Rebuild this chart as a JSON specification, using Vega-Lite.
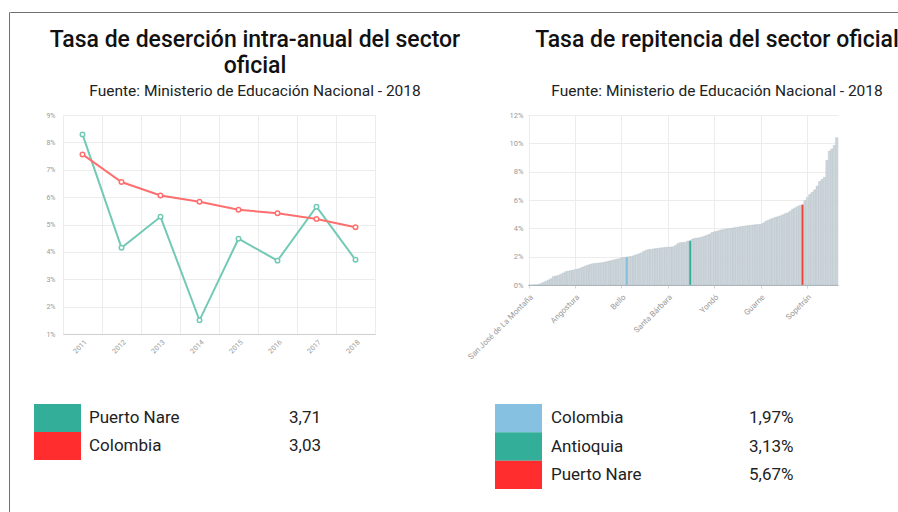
{
  "$schema": "https://vega.github.io/schema/vega-lite/v6.json",
  "background": "white",
  "padding": {"left": 8, "top": 11, "right": 0, "bottom": 0},
  "columns": 6,
  "spacing": 0,
  "bounds": "flush",
  "align": "each",
  "resolve": {"scale": {"x": "independent", "y": "independent", "color": "independent"}},
  "datasets": {
    "rep": [
      {"m": "San José de La Montaña", "v": 0.0, "g": "Municipio"},
      {"m": "Abejorral", "v": 0.0, "g": "Municipio"},
      {"m": "Abriaquí", "v": 0.0001, "g": "Municipio"},
      {"m": "Alejandría", "v": 0.0002, "g": "Municipio"},
      {"m": "Amagá", "v": 0.0004, "g": "Municipio"},
      {"m": "Amalfi", "v": 0.0012, "g": "Municipio"},
      {"m": "Andes", "v": 0.002, "g": "Municipio"},
      {"m": "Angelópolis", "v": 0.0028, "g": "Municipio"},
      {"m": "Anorí", "v": 0.0036, "g": "Municipio"},
      {"m": "Anzá", "v": 0.0045, "g": "Municipio"},
      {"m": "Apartadó", "v": 0.006, "g": "Municipio"},
      {"m": "Arboletes", "v": 0.0064, "g": "Municipio"},
      {"m": "Argelia", "v": 0.0068, "g": "Municipio"},
      {"m": "Armenia", "v": 0.0076, "g": "Municipio"},
      {"m": "Barbosa", "v": 0.0085, "g": "Municipio"},
      {"m": "Belmira", "v": 0.0094, "g": "Municipio"},
      {"m": "Betania", "v": 0.0098, "g": "Municipio"},
      {"m": "Betulia", "v": 0.0102, "g": "Municipio"},
      {"m": "Briceño", "v": 0.0105, "g": "Municipio"},
      {"m": "Angostura", "v": 0.011, "g": "Municipio"},
      {"m": "Buriticá", "v": 0.0113, "g": "Municipio"},
      {"m": "Cáceres", "v": 0.012, "g": "Municipio"},
      {"m": "Caicedo", "v": 0.0127, "g": "Municipio"},
      {"m": "Caldas", "v": 0.0134, "g": "Municipio"},
      {"m": "Campamento", "v": 0.014, "g": "Municipio"},
      {"m": "Cañasgordas", "v": 0.0145, "g": "Municipio"},
      {"m": "Caracolí", "v": 0.015, "g": "Municipio"},
      {"m": "Caramanta", "v": 0.0152, "g": "Municipio"},
      {"m": "Carepa", "v": 0.0154, "g": "Municipio"},
      {"m": "Carolina", "v": 0.0156, "g": "Municipio"},
      {"m": "Caucasia", "v": 0.0158, "g": "Municipio"},
      {"m": "Chigorodó", "v": 0.0162, "g": "Municipio"},
      {"m": "Cisneros", "v": 0.0166, "g": "Municipio"},
      {"m": "Ciudad Bolívar", "v": 0.017, "g": "Municipio"},
      {"m": "Cocorná", "v": 0.0174, "g": "Municipio"},
      {"m": "Concepción", "v": 0.0178, "g": "Municipio"},
      {"m": "Concordia", "v": 0.0182, "g": "Municipio"},
      {"m": "Copacabana", "v": 0.0186, "g": "Municipio"},
      {"m": "Bello", "v": 0.0192, "g": "Municipio"},
      {"m": "Dabeiba", "v": 0.0195, "g": "Municipio"},
      {"m": "Colombia", "v": 0.0197, "g": "Colombia"},
      {"m": "Donmatías", "v": 0.02, "g": "Municipio"},
      {"m": "Ebéjico", "v": 0.0202, "g": "Municipio"},
      {"m": "El Bagre", "v": 0.0208, "g": "Municipio"},
      {"m": "El Carmen de Viboral", "v": 0.0214, "g": "Municipio"},
      {"m": "El Peñol", "v": 0.022, "g": "Municipio"},
      {"m": "El Retiro", "v": 0.0227, "g": "Municipio"},
      {"m": "El Santuario", "v": 0.0238, "g": "Municipio"},
      {"m": "Entrerríos", "v": 0.0246, "g": "Municipio"},
      {"m": "Envigado", "v": 0.025, "g": "Municipio"},
      {"m": "Fredonia", "v": 0.0252, "g": "Municipio"},
      {"m": "Frontino", "v": 0.0255, "g": "Municipio"},
      {"m": "Giraldo", "v": 0.0257, "g": "Municipio"},
      {"m": "Girardota", "v": 0.0259, "g": "Municipio"},
      {"m": "Gómez Plata", "v": 0.0262, "g": "Municipio"},
      {"m": "Granada", "v": 0.0264, "g": "Municipio"},
      {"m": "Guadalupe", "v": 0.0266, "g": "Municipio"},
      {"m": "Santa Bárbara", "v": 0.0267, "g": "Municipio"},
      {"m": "Guatapé", "v": 0.0268, "g": "Municipio"},
      {"m": "Heliconia", "v": 0.027, "g": "Municipio"},
      {"m": "Hispania", "v": 0.028, "g": "Municipio"},
      {"m": "Itagüí", "v": 0.0293, "g": "Municipio"},
      {"m": "Ituango", "v": 0.0299, "g": "Municipio"},
      {"m": "Jardín", "v": 0.03, "g": "Municipio"},
      {"m": "Jericó", "v": 0.0302, "g": "Municipio"},
      {"m": "La Ceja", "v": 0.031, "g": "Municipio"},
      {"m": "Antioquia", "v": 0.0313, "g": "Antioquia"},
      {"m": "La Estrella", "v": 0.0325, "g": "Municipio"},
      {"m": "La Pintada", "v": 0.033, "g": "Municipio"},
      {"m": "La Unión", "v": 0.0332, "g": "Municipio"},
      {"m": "Liborina", "v": 0.0334, "g": "Municipio"},
      {"m": "Maceo", "v": 0.034, "g": "Municipio"},
      {"m": "Marinilla", "v": 0.0346, "g": "Municipio"},
      {"m": "Medellín", "v": 0.0353, "g": "Municipio"},
      {"m": "Montebello", "v": 0.036, "g": "Municipio"},
      {"m": "Murindó", "v": 0.037, "g": "Municipio"},
      {"m": "Yondó", "v": 0.0376, "g": "Municipio"},
      {"m": "Mutatá", "v": 0.038, "g": "Municipio"},
      {"m": "Nariño", "v": 0.0386, "g": "Municipio"},
      {"m": "Nechí", "v": 0.039, "g": "Municipio"},
      {"m": "Necoclí", "v": 0.0393, "g": "Municipio"},
      {"m": "Olaya", "v": 0.0396, "g": "Municipio"},
      {"m": "Peque", "v": 0.0399, "g": "Municipio"},
      {"m": "Pueblorrico", "v": 0.0401, "g": "Municipio"},
      {"m": "Puerto Berrío", "v": 0.0404, "g": "Municipio"},
      {"m": "Puerto Triunfo", "v": 0.0407, "g": "Municipio"},
      {"m": "Remedios", "v": 0.041, "g": "Municipio"},
      {"m": "Rionegro", "v": 0.0413, "g": "Municipio"},
      {"m": "Sabanalarga", "v": 0.0415, "g": "Municipio"},
      {"m": "Sabaneta", "v": 0.0418, "g": "Municipio"},
      {"m": "Salgar", "v": 0.042, "g": "Municipio"},
      {"m": "San Andrés de Cuerquia", "v": 0.0422, "g": "Municipio"},
      {"m": "San Carlos", "v": 0.0424, "g": "Municipio"},
      {"m": "San Francisco", "v": 0.0426, "g": "Municipio"},
      {"m": "San Jerónimo", "v": 0.0427, "g": "Municipio"},
      {"m": "Guarne", "v": 0.0429, "g": "Municipio"},
      {"m": "San Juan de Urabá", "v": 0.0438, "g": "Municipio"},
      {"m": "San Luis", "v": 0.045, "g": "Municipio"},
      {"m": "San Pedro de los Milagros", "v": 0.0458, "g": "Municipio"},
      {"m": "San Pedro de Urabá", "v": 0.0466, "g": "Municipio"},
      {"m": "San Rafael", "v": 0.0472, "g": "Municipio"},
      {"m": "San Roque", "v": 0.0478, "g": "Municipio"},
      {"m": "San Vicente", "v": 0.0483, "g": "Municipio"},
      {"m": "Santa Fe de Antioquia", "v": 0.0488, "g": "Municipio"},
      {"m": "Santa Rosa de Osos", "v": 0.0496, "g": "Municipio"},
      {"m": "Santo Domingo", "v": 0.0504, "g": "Municipio"},
      {"m": "Segovia", "v": 0.051, "g": "Municipio"},
      {"m": "Sonsón", "v": 0.0522, "g": "Municipio"},
      {"m": "Támesis", "v": 0.0536, "g": "Municipio"},
      {"m": "Tarazá", "v": 0.0545, "g": "Municipio"},
      {"m": "Tarso", "v": 0.0554, "g": "Municipio"},
      {"m": "Titiribí", "v": 0.0562, "g": "Municipio"},
      {"m": "Puerto Nare", "v": 0.0567, "g": "Puerto Nare"},
      {"m": "Toledo", "v": 0.0595, "g": "Municipio"},
      {"m": "Sopetrán", "v": 0.0618, "g": "Municipio"},
      {"m": "Turbo", "v": 0.064, "g": "Municipio"},
      {"m": "Uramita", "v": 0.0655, "g": "Municipio"},
      {"m": "Urrao", "v": 0.0672, "g": "Municipio"},
      {"m": "Valdivia", "v": 0.0698, "g": "Municipio"},
      {"m": "Valparaíso", "v": 0.073, "g": "Municipio"},
      {"m": "Vegachí", "v": 0.0745, "g": "Municipio"},
      {"m": "Venecia", "v": 0.076, "g": "Municipio"},
      {"m": "Vigía del Fuerte", "v": 0.088, "g": "Municipio"},
      {"m": "Yalí", "v": 0.0945, "g": "Municipio"},
      {"m": "Yarumal", "v": 0.096, "g": "Municipio"},
      {"m": "Yolombó", "v": 0.0985, "g": "Municipio"},
      {"m": "Zaragoza", "v": 0.104, "g": "Municipio"}
    ]
  },
  "concat": [
    {"width": 0.001, "height": 103, "data": {"values": []}, "mark": {"type": "point", "opacity": 0}, "view": {"stroke": "#707070", "strokeWidth": 1}},
    {"width": 53, "height": 0.001, "data": {"values": []}, "mark": {"type": "point", "opacity": 0}, "view": {"stroke": "#707070", "strokeWidth": 1}},
    {"width": 312, "height": 0.001, "data": {"values": []}, "mark": {"type": "point", "opacity": 0}, "view": {"stroke": "#707070", "strokeWidth": 1}},
    {"width": 153, "height": 0.001, "data": {"values": []}, "mark": {"type": "point", "opacity": 0}, "view": {"stroke": "#707070", "strokeWidth": 1}},
    {"width": 310, "height": 0.001, "data": {"values": []}, "mark": {"type": "point", "opacity": 0}, "view": {"stroke": "#707070", "strokeWidth": 1}},
    {"width": 60, "height": 0.001, "data": {"values": []}, "mark": {"type": "point", "opacity": 0}, "view": {"stroke": "#707070", "strokeWidth": 1}},

    {"width": 0.001, "height": 289, "data": {"values": []}, "mark": {"type": "point", "opacity": 0}, "view": {"stroke": "#707070", "strokeWidth": 1}},
    {"width": 53, "height": 1, "data": {"values": []}, "mark": {"type": "point", "opacity": 0}},
    {
      "width": 312,
      "height": 219,
      "title": {
        "text": ["Tasa de deserción intra-anual del sector", "oficial"],
        "subtitle": "Fuente: Ministerio de Educación Nacional - 2018",
        "dx": 36,
        "offset": 12,
        "subtitlePadding": 6
      },
      "data": {
        "values": [
          {"anio": "2011", "serie": "Puerto Nare", "tasa": 0.0829},
          {"anio": "2012", "serie": "Puerto Nare", "tasa": 0.0415},
          {"anio": "2013", "serie": "Puerto Nare", "tasa": 0.0528},
          {"anio": "2014", "serie": "Puerto Nare", "tasa": 0.015},
          {"anio": "2015", "serie": "Puerto Nare", "tasa": 0.0448},
          {"anio": "2016", "serie": "Puerto Nare", "tasa": 0.0368},
          {"anio": "2017", "serie": "Puerto Nare", "tasa": 0.0565},
          {"anio": "2018", "serie": "Puerto Nare", "tasa": 0.0371},
          {"anio": "2011", "serie": "Colombia", "tasa": 0.0756},
          {"anio": "2012", "serie": "Colombia", "tasa": 0.0655},
          {"anio": "2013", "serie": "Colombia", "tasa": 0.0606},
          {"anio": "2014", "serie": "Colombia", "tasa": 0.0583},
          {"anio": "2015", "serie": "Colombia", "tasa": 0.0554},
          {"anio": "2016", "serie": "Colombia", "tasa": 0.0541},
          {"anio": "2017", "serie": "Colombia", "tasa": 0.052},
          {"anio": "2018", "serie": "Colombia", "tasa": 0.049}
        ]
      },
      "mark": {"type": "line", "strokeWidth": 2, "point": {"filled": false, "fill": "white", "size": 20, "strokeWidth": 1.5}},
      "encoding": {
        "x": {
          "field": "anio", "type": "ordinal",
          "scale": {"type": "band", "paddingInner": 0, "paddingOuter": 0},
          "axis": {"title": null, "tickBand": "extent", "labelAngle": -45, "labelPadding": 4, "grid": true, "ticks": false, "domainColor": "#cfcfcf", "labelOverlap": false}
        },
        "y": {
          "field": "tasa", "type": "quantitative",
          "scale": {"domain": [0.01, 0.09], "nice": false, "zero": false},
          "axis": {"title": null, "values": [0.01, 0.02, 0.03, 0.04, 0.05, 0.06, 0.07, 0.08, 0.09], "format": ".0%", "domain": false, "ticks": false, "labelPadding": 8}
        },
        "color": {"field": "serie", "type": "nominal", "scale": {"domain": ["Puerto Nare", "Colombia"], "range": ["#72c9b5", "#ff6f6f"]}, "legend": null}
      }
    },
    {"width": 153, "height": 1, "data": {"values": []}, "mark": {"type": "point", "opacity": 0}},
    {
      "width": 310,
      "height": 170,
      "title": {
        "text": "Tasa de repitencia del sector oficial",
        "subtitle": "Fuente: Ministerio de Educación Nacional - 2018",
        "dx": 34,
        "offset": 12,
        "subtitlePadding": 32
      },
      "data": {"name": "rep"},
      "mark": {"type": "bar", "stroke": "#b5c1c7", "strokeWidth": 0.4},
      "encoding": {
        "x": {
          "field": "m", "type": "nominal", "sort": null,
          "scale": {"paddingInner": 0, "paddingOuter": 0},
          "axis": {"title": null, "values": ["San José de La Montaña", "Angostura", "Bello", "Santa Bárbara", "Yondó", "Guarne", "Sopetrán"], "labelAngle": -45, "labelPadding": 5, "labelFontSize": 8, "grid": true, "ticks": true, "tickSize": 3, "tickColor": "#d5d5d5", "domainColor": "#a9b4ba", "labelOverlap": false}
        },
        "y": {
          "field": "v", "type": "quantitative",
          "scale": {"domain": [0, 0.12], "nice": false},
          "axis": {"title": null, "values": [0, 0.02, 0.04, 0.06, 0.08, 0.1, 0.12], "format": ".0%", "domain": false, "ticks": false, "labelPadding": 5, "labelFontSize": 7.5}
        },
        "color": {"field": "g", "type": "nominal", "scale": {"domain": ["Municipio", "Colombia", "Antioquia", "Puerto Nare"], "range": ["#cdd6db", "#86c1e1", "#33ae99", "#ef4039"]}, "legend": null}
      }
    },
    {"width": 60, "height": 1, "data": {"values": []}, "mark": {"type": "point", "opacity": 0}},

    {"width": 0.001, "height": 108, "data": {"values": []}, "mark": {"type": "point", "opacity": 0}, "view": {"stroke": "#707070", "strokeWidth": 1}},
    {"width": 53, "height": 1, "data": {"values": []}, "mark": {"type": "point", "opacity": 0}},
    {
      "width": 312,
      "height": 56,
      "data": {"values": [{"serie": "Puerto Nare", "valor": 3.71}, {"serie": "Colombia", "valor": 3.03}]},
      "encoding": {"y": {"field": "serie", "type": "nominal", "sort": null, "axis": null, "scale": {"paddingInner": 0, "paddingOuter": 0}}},
      "layer": [
        {"mark": {"type": "rect"}, "encoding": {"x": {"value": -29}, "x2": {"value": 18}, "color": {"field": "serie", "type": "nominal", "scale": {"domain": ["Puerto Nare", "Colombia"], "range": ["#33ae99", "#ff2d2d"]}, "legend": null}}},
        {"mark": {"type": "text", "align": "left", "baseline": "middle", "fontSize": 17, "color": "#222"}, "encoding": {"x": {"value": 26}, "text": {"field": "serie"}}},
        {"mark": {"type": "text", "align": "left", "baseline": "middle", "fontSize": 17, "color": "#222"}, "encoding": {"x": {"value": 226}, "text": {"field": "valor", "type": "quantitative", "format": ".2f"}}}
      ]
    },
    {"width": 153, "height": 1, "data": {"values": []}, "mark": {"type": "point", "opacity": 0}},
    {
      "width": 310,
      "height": 85,
      "data": {"name": "rep"},
      "transform": [{"filter": "datum.g !== 'Municipio'"}],
      "encoding": {"y": {"field": "g", "type": "nominal", "sort": null, "axis": null, "scale": {"paddingInner": 0, "paddingOuter": 0}}},
      "layer": [
        {"mark": {"type": "rect"}, "encoding": {"x": {"value": -33}, "x2": {"value": 14}, "color": {"field": "g", "type": "nominal", "scale": {"domain": ["Colombia", "Antioquia", "Puerto Nare"], "range": ["#86c1e1", "#33ae99", "#ff2d2d"]}, "legend": null}}},
        {"mark": {"type": "text", "align": "left", "baseline": "middle", "fontSize": 17, "color": "#222"}, "encoding": {"x": {"value": 23}, "text": {"field": "g"}}},
        {"mark": {"type": "text", "align": "left", "baseline": "middle", "fontSize": 17, "color": "#222"}, "encoding": {"x": {"value": 221}, "text": {"field": "v", "type": "quantitative", "format": ".2%"}}}
      ]
    },
    {"width": 60, "height": 1, "data": {"values": []}, "mark": {"type": "point", "opacity": 0}}
  ],
  "config": {
    "view": {"stroke": null},
    "font": "Roboto",
    "locale": {"number": {"decimal": ",", "thousands": ".", "grouping": [3], "currency": ["$", ""]}},
    "title": {"font": "Roboto", "fontSize": 23, "fontWeight": 500, "color": "#111", "lineHeight": 26, "anchor": "middle", "frame": "group", "subtitleFont": "Roboto", "subtitleFontSize": 15.5, "subtitleColor": "#222"},
    "axis": {"labelFont": "Roboto", "labelColor": "#999", "labelFontSize": 7, "gridColor": "#ececec", "domainColor": "#cfcfcf"}
  }
}
